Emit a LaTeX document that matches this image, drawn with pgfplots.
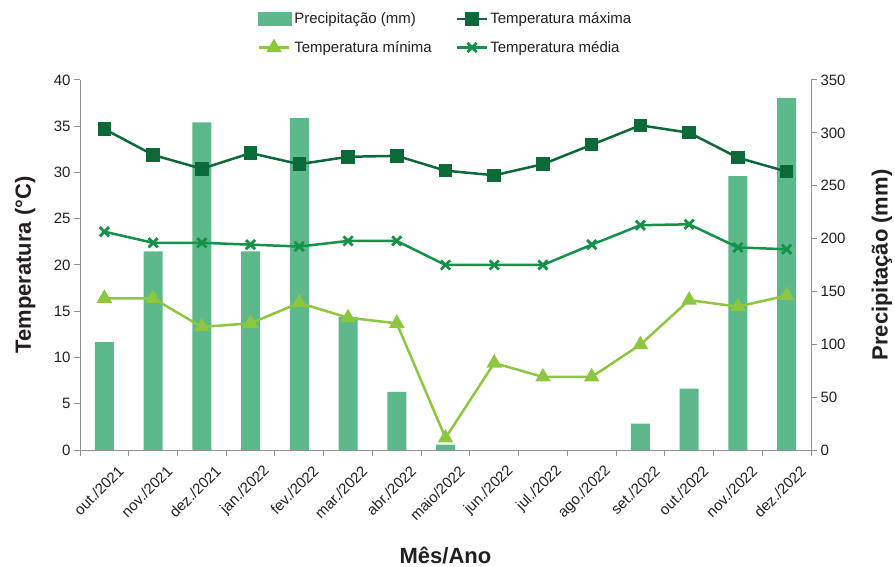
\documentclass[border=0pt]{standalone}
\usepackage{fontspec}
\setmainfont{Liberation Sans}
\usepackage{pgfplots}
\pgfplotsset{compat=1.18}
\definecolor{barc}{HTML}{5DB98B}
\definecolor{tmax}{HTML}{0C6A38}
\definecolor{tmin}{HTML}{8DC63F}
\definecolor{tmed}{HTML}{14924A}
\definecolor{axgray}{HTML}{8F8F8F}
\definecolor{txt}{HTML}{231F20}
\pgfplotstableread{
x prec tmax tmin tmed
0  102 34.7 16.4 23.6
1  188 31.9 16.4 22.4
2  310 30.4 13.3 22.4
3  188 32.1 13.7 22.2
4  314 30.9 15.9 22.0
5  126 31.7 14.3 22.6
6  55  31.8 13.7 22.6
7  5   30.2 1.3  20.0
8  0   29.7 9.4  20.0
9  0   30.9 7.9  20.0
10 0   33.0 7.9  22.2
11 25  35.1 11.4 24.3
12 58  34.3 16.2 24.4
13 259 31.6 15.5 21.9
14 333 30.1 16.7 21.7
}\datatable
\begin{document}
\begin{tikzpicture}
\useasboundingbox (-80bp,-117bp) rectangle (815bp,450bp);
\pgfplotsset{
  every axis/.append style={
    scale only axis, width=731bp, height=370bp,
    xmin=-0.5, xmax=14.5,
    axis line style={axgray, line width=1bp},
    tick style={axgray, line width=1bp},
    tick align=outside,
    major tick length=6bp,
    /pgf/number format/assume math mode=true,
    tick label style={font=\fontsize{15bp}{18bp}\selectfont, text=txt},
    label style={font=\fontsize{22bp}{26bp}\selectfont\bfseries, text=txt},
  }
}
\begin{axis}[
  at={(0,0)}, anchor=south west,
  axis y line*=right, axis x line=none,
  ymin=0, ymax=350, ytick={0,50,...,350},
  ylabel={Precipitação (mm)},
  ylabel style={at={(axis description cs:1.097,0.5)}, anchor=center, rotate=0},
]
\addplot[ybar, bar width=19bp, fill=barc, draw=none] table[x=x, y=prec] {\datatable};
\end{axis}
\begin{axis}[
  at={(0,0)}, anchor=south west,
  axis y line*=left, axis x line*=bottom,
  ymin=0, ymax=40, ytick={0,5,...,40},
  xtick={0,...,14},
  xticklabels={out./2021,nov./2021,dez./2021,jan./2022,fev./2022,mar./2022,abr./2022,maio/2022,jun./2022,jul./2022,ago./2022,set./2022,out./2022,nov./2022,dez./2022},
  minor xtick={-0.5,0.5,...,14.5},
  major x tick style={draw=none},
  minor tick length=6bp,
  xticklabel style={font=\fontsize{15bp}{18bp}\selectfont, xshift=19bp, yshift=-10bp, rotate=45, anchor=east},
  ylabel={Temperatura (°C)},
  ylabel style={at={(axis description cs:-0.075,0.5)}, anchor=center},
  xlabel={Mês/Ano},
  xlabel style={at={(axis description cs:0.5,-0.284)}, anchor=center},
  legend columns=2,
  legend cell align=left,
  legend style={at={(0.5,1)}, anchor=south, yshift=22bp, draw=none, fill=none,
    font=\fontsize{15bp}{18bp}\selectfont, text=txt,
    /tikz/every even column/.append style={column sep=22bp},
    /tikz/row sep=12bp},
  every axis plot/.append style={line width=2.5bp},
]
\addlegendimage{legend image code/.code={\fill[barc] (0bp,-5.5bp) rectangle (32bp,5.5bp);}}
\addlegendentry{Precipitação (mm)}
\addplot[tmax, mark=square*, mark size=5.5bp, mark options={solid},
  legend image code/.code={\draw[mark repeat=2,mark phase=2] plot coordinates {(0bp,0bp) (15bp,0bp) (30bp,0bp)};}]
  table[x=x, y=tmax] {\datatable};
\addlegendentry{Temperatura máxima}
\addplot[tmin, mark=triangle*, mark size=6.5bp, mark options={solid},
  legend image code/.code={\draw[mark repeat=2,mark phase=2] plot coordinates {(0bp,0bp) (15bp,0bp) (30bp,0bp)};}]
  table[x=x, y=tmin] {\datatable};
\addlegendentry{Temperatura mínima}
\addplot[tmed, mark=x, mark size=6.5bp, mark options={solid, line width=2.8bp},
  legend image code/.code={\draw[mark repeat=2,mark phase=2] plot coordinates {(0bp,0bp) (15bp,0bp) (30bp,0bp)};}]
  table[x=x, y=tmed] {\datatable};
\addlegendentry{Temperatura média}
\end{axis}
\end{tikzpicture}
\end{document}
